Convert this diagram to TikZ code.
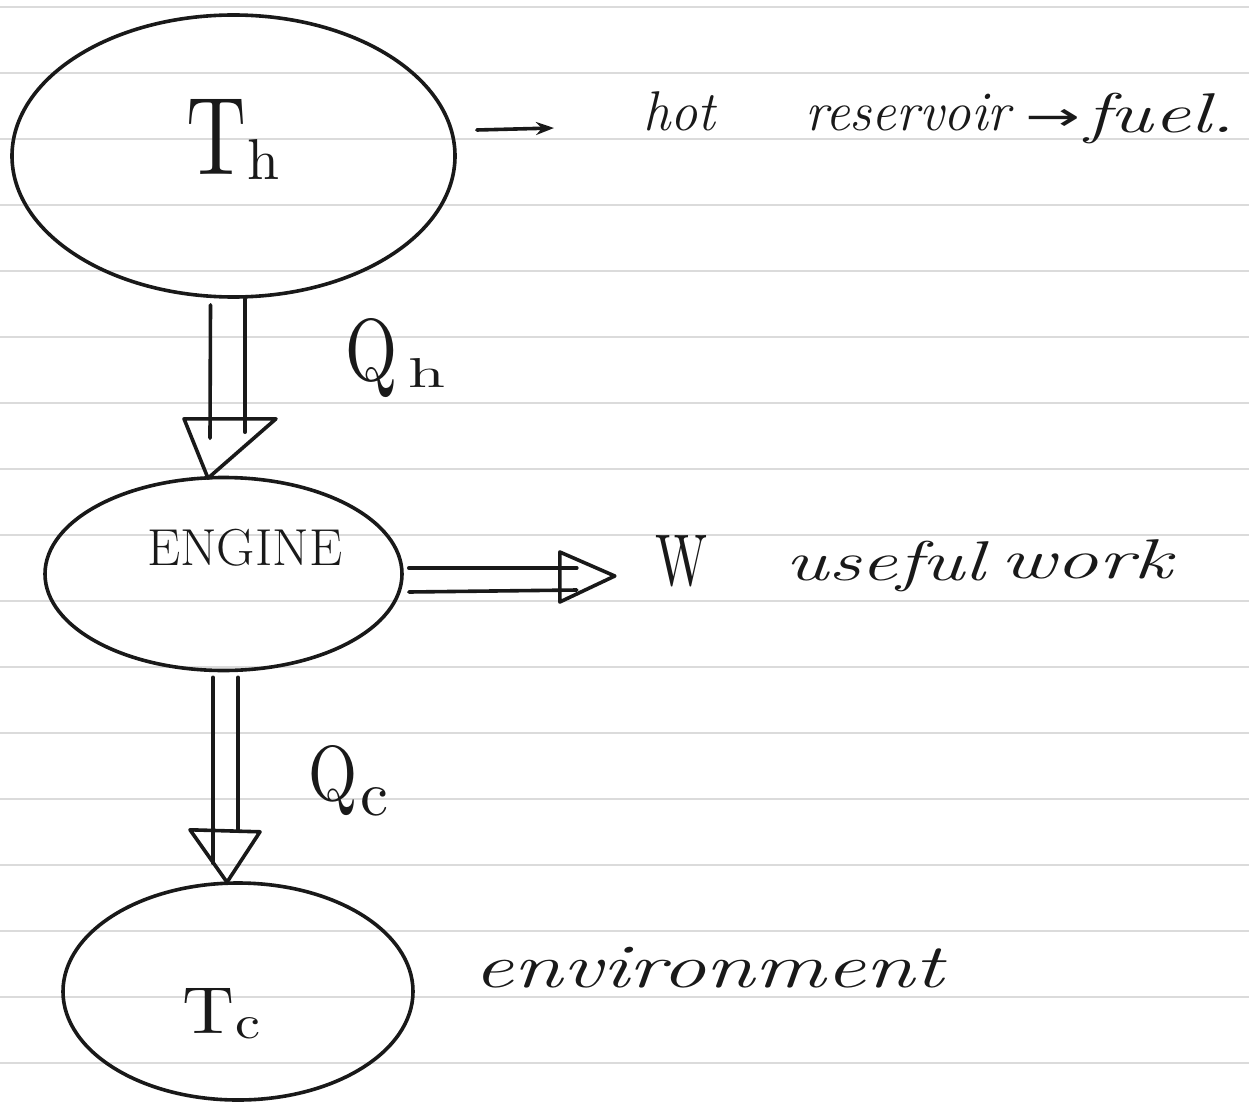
\documentclass[tikz,border=0pt]{standalone}
\usepackage{fontspec}
\usepackage{graphicx}
\usetikzlibrary{shapes.geometric,calc,arrows.meta}
\newfontfamily\arrowfont{DejaVu Sans}
\newcommand{\stretchto}[2]{\resizebox{#1}{\height}{#2}}
\definecolor{ink}{RGB}{25,25,25}
\begin{document}
\begin{tikzpicture}[x=1pt,y=-1pt,
  pen/.style={line width=3.6pt, draw=ink, line cap=round, line join=round},
  ruled/.style={line width=2.2pt, draw=black!14},
  blob/.style={ellipse, pen, inner sep=0pt},
  hand/.style={inner sep=0pt, anchor=base west, text=ink},
  script/.style={hand, font=\fontsize{56}{56}\selectfont\itshape},
]
\fill[white] (0,0) rectangle (1249,1110);
\useasboundingbox (0,0) rectangle (1249,1110);
\foreach \k in {0,...,16} \draw[ruled] (0,{7+66*\k}) -- (1249,{7+66*\k});

% reservoirs and engine
\node[blob, minimum width=443pt, minimum height=282pt] (th) at (233.5,156) {};
\node[blob, minimum width=357pt, minimum height=193pt] (engine) at (223.5,574) {};
\node[blob, minimum width=350pt, minimum height=217pt] (tc) at (238,991.5) {};

% labels inside
\node[hand] (thlabel) at (186,175) {\resizebox{60pt}{75pt}{T}\kern1pt\raisebox{-5pt}{\resizebox{32pt}{40pt}{h}}};
\node[hand] (englabel) at (147,565) {\fontsize{52}{52}\selectfont\stretchto{195pt}{ENGINE}};
\node[hand] (tclabel) at (182,1033) {\resizebox{52pt}{45pt}{T}\kern1pt\raisebox{-5pt}{\resizebox{25pt}{21pt}{c}}};

% heat labels
\node[hand] (qh) at (345,380) {\resizebox{52pt}{62pt}{Q}\kern11pt\raisebox{-7pt}{\resizebox{37pt}{29pt}{h}}};
\node[hand] (qc) at (308,800) {\resizebox{49pt}{55pt}{Q}\kern3pt\raisebox{-15pt}{\resizebox{28pt}{28pt}{c}}};

% notes
\node[script] (hot) at (643,131) {\stretchto{72pt}{hot}};
\node[script] (reservoir) at (805,131) {\stretchto{205pt}{reservoir}};
\node[hand] (fuelarrow) at (1025,131) {\fontsize{40}{40}\selectfont\arrowfont\stretchto{55pt}{→}};
\node[script] (fuel) at (1085,133) {\stretchto{150pt}{fuel.}};
\node[hand] (w) at (655,585) {\resizebox{52pt}{50pt}{W}};
\node[script] (useful) at (785,580) {\stretchto{200pt}{useful}};
\node[script] (work) at (1000,578) {\stretchto{172pt}{work}};
\node[script, font=\fontsize{62}{62}\selectfont\itshape] (env) at (473,987) {\stretchto{470pt}{environment}};

% arrow from hot reservoir to its note
\coordinate (hottip) at (554,128);
\draw[pen, -{Stealth[length=18pt,width=13pt]}] ($(th.east)+(20,-26)$) -- (hottip);

% Q_h : hot reservoir -> engine
\draw[pen] ($(th.south)+(-23,6)$) -- ($(engine.north)+(-13.5,-37.5)$);
\draw[pen] ($(th.south)+(11.5,0)$) -- ($(engine.north)+(21.5,-43.5)$);
\draw[pen] ($(th.south)+(-49.5,120)$) -- ($(th.south)+(42.5,120)$) -- ($(engine.north)+(-15.5,2.5)$) -- cycle;

% W : engine -> useful work
\draw[pen] ($(engine.east)+(5,-6)$) -- ($(engine.east)+(173,-6)$);
\draw[pen] ($(engine.east)+(5,18)$) -- ($(engine.east)+(173,16)$);
\draw[pen] ($(engine.east)+(156,-22)$) -- ($(engine.east)+(211,2)$) -- ($(engine.east)+(156,28)$) -- cycle;

% Q_c : engine -> cold reservoir
\draw[pen] ($(engine.south)+(-10.5,5)$) -- ($(tc.north)+(-25,-18)$);
\draw[pen] ($(engine.south)+(14.5,5)$) -- ($(tc.north)+(0,-50)$);
\draw[pen] ($(engine.south)+(-33.5,157.5)$) -- ($(engine.south)+(36.5,159.5)$) -- ($(tc.north)+(-11,1)$) -- cycle;
\end{tikzpicture}
\end{document}
